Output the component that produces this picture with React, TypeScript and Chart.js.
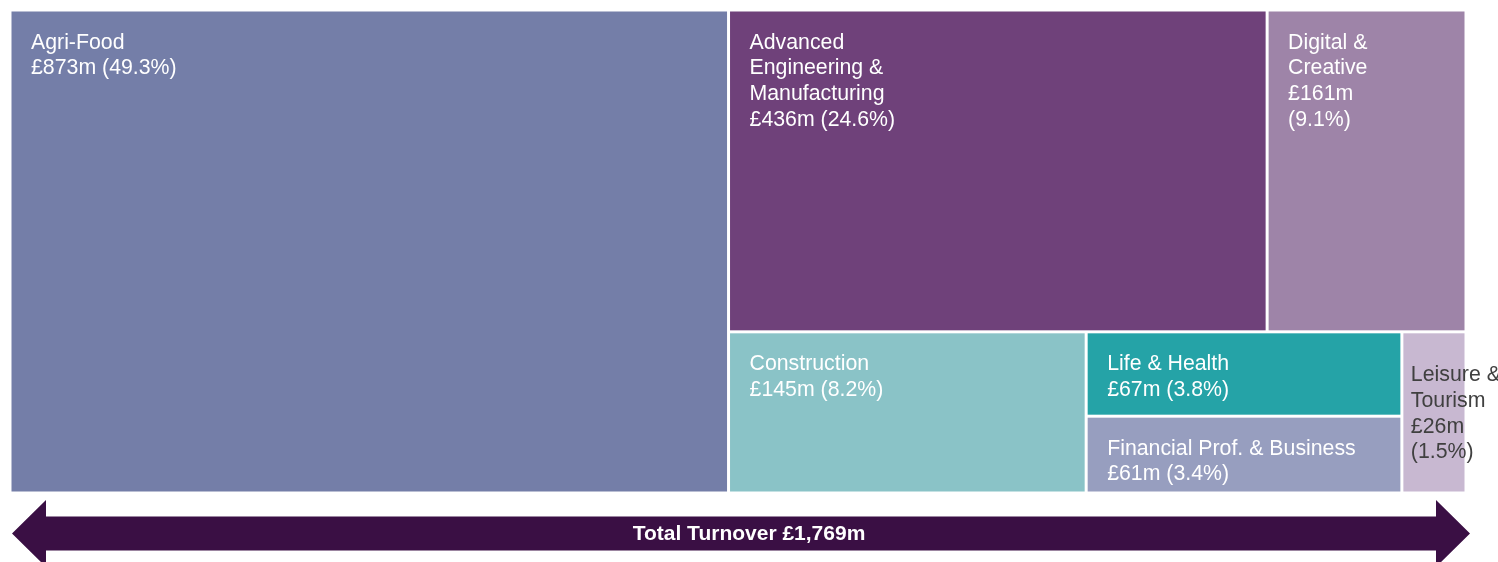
import React, { useEffect, useRef } from "react";
import { Chart, registerables } from "chart.js";

Chart.register(...registerables);

// ---- Data ----
const categories = [
  "Agri-Food",
  "Advanced Engineering & Manufacturing",
  "Digital & Creative",
  "Construction",
  "Life & Health",
  "Financial Prof. & Business",
  "Leisure & Tourism",
];
const labelLines = [
  ["Agri-Food"],
  ["Advanced", "Engineering &", "Manufacturing"],
  ["Digital &", "Creative"],
  ["Construction"],
  ["Life & Health"],
  ["Financial Prof. & Business"],
  ["Leisure &", "Tourism"],
];
const values = [873, 436, 161, 145, 67, 61, 26]; // £m turnover
const splitValueLine = [false, false, true, false, false, false, true];
const totalLabel = "Total Turnover";

// ---- Styles ----
const colors = ["#747ea8", "#6f417a", "#9e84a8", "#8ac3c7", "#25a3a7", "#979ebf", "#c8b8d1"];
const textColors = ["#ffffff", "#ffffff", "#ffffff", "#ffffff", "#ffffff", "#ffffff", "#404040"];
const arrowColor = "#3a0f44";

// treemap nesting (indices into categories); 'h' = side by side, 'v' = stacked
type Node = number | { dir: "h" | "v"; children: Node[] };
const layoutTree: Node = {
  dir: "h",
  children: [
    0,
    {
      dir: "v",
      children: [
        { dir: "h", children: [1, 2] },
        { dir: "h", children: [3, { dir: "v", children: [4, 5] }, 6] },
      ],
    },
  ],
};

const total = values.reduce((a, b) => a + b, 0);

function sumOf(n: Node): number {
  if (typeof n === "number") return values[n];
  return n.children.reduce((a, c) => a + sumOf(c), 0);
}

type R = { x0: number; y0: number; x1: number; y1: number };
function layout(n: Node, x0: number, y0: number, x1: number, y1: number, out: R[]) {
  if (typeof n === "number") {
    out[n] = { x0, y0, x1, y1 };
    return;
  }
  const s = sumOf(n);
  let pos = n.dir === "h" ? x0 : y0;
  for (const c of n.children) {
    const f = sumOf(c) / s;
    if (n.dir === "h") {
      const nx = pos + (x1 - x0) * f;
      layout(c, pos, y0, nx, y1, out);
      pos = nx;
    } else {
      const ny = pos + (y1 - y0) * f;
      layout(c, x0, pos, x1, ny, out);
      pos = ny;
    }
  }
}

const FONT = '"Liberation Sans", Arial, Helvetica, sans-serif';

const treemapPlugin = {
  id: "treemapPlugin",
  afterDraw(chart: any) {
    const ctx = chart.ctx as CanvasRenderingContext2D;
    const xs = chart.scales.x;
    const ys = chart.scales.y;
    const rects: R[] = [];
    layout(layoutTree, 0, 0, 1, 1, rects);
    const gap = 1.5;
    const lh = 25.7;
    ctx.save();
    rects.forEach((r, i) => {
      const px0 = xs.getPixelForValue(r.x0);
      const px1 = xs.getPixelForValue(r.x1);
      const py0 = ys.getPixelForValue(r.y0);
      const py1 = ys.getPixelForValue(r.y1);
      ctx.fillStyle = colors[i];
      ctx.fillRect(px0 + gap, py0 + gap, px1 - px0 - 2 * gap, py1 - py0 - 2 * gap);

      const pct = ((values[i] / total) * 100).toFixed(1);
      const valStr = "£" + values[i] + "m";
      const lines = [...labelLines[i]];
      if (splitValueLine[i]) {
        lines.push(valStr, "(" + pct + "%)");
      } else {
        lines.push(valStr + " (" + pct + "%)");
      }
      ctx.font = "21.3px " + FONT;
      ctx.fillStyle = textColors[i];
      ctx.textAlign = "left";
      ctx.textBaseline = "alphabetic";
      const w = px1 - px0;
      let tx: number, ty: number;
      if (w < 100) {
        tx = px0 + 9;
        const cy = (py0 + py1) / 2;
        ty = cy - ((lines.length - 1) / 2) * lh + 7.5;
      } else {
        tx = px0 + 21;
        ty = py0 + 38.5;
      }
      lines.forEach((ln, k) => ctx.fillText(ln, tx, ty + k * lh));
    });

    // total arrow
    const ax0 = xs.getPixelForValue(0) + 2;
    const ax1 = xs.getPixelForValue(1) + 4;
    const cy = chart.chartArea.bottom + 40.5;
    const sh = 17;
    const hh = 33.5;
    const hl = 34;
    ctx.fillStyle = arrowColor;
    ctx.beginPath();
    ctx.moveTo(ax0, cy);
    ctx.lineTo(ax0 + hl, cy - hh);
    ctx.lineTo(ax0 + hl, cy - sh);
    ctx.lineTo(ax1 - hl, cy - sh);
    ctx.lineTo(ax1 - hl, cy - hh);
    ctx.lineTo(ax1, cy);
    ctx.lineTo(ax1 - hl, cy + hh);
    ctx.lineTo(ax1 - hl, cy + sh);
    ctx.lineTo(ax0 + hl, cy + sh);
    ctx.lineTo(ax0 + hl, cy + hh);
    ctx.closePath();
    ctx.fill();

    ctx.fillStyle = "#ffffff";
    ctx.font = "bold 21px " + FONT;
    ctx.textAlign = "center";
    ctx.textBaseline = "middle";
    ctx.fillText(
      totalLabel + " £" + total.toLocaleString("en-GB") + "m",
      chart.width / 2,
      cy + 1
    );
    ctx.restore();
  },
};

export default function App() {
  const ref = useRef<HTMLCanvasElement | null>(null);
  useEffect(() => {
    if (!ref.current) return;
    const chart = new Chart(ref.current, {
      type: "scatter",
      data: { datasets: [{ data: [] }] },
      options: {
        animation: false,
        responsive: true,
        maintainAspectRatio: false,
        layout: { padding: { left: 10, top: 10, right: 32, bottom: 69 } },
        plugins: { legend: { display: false }, tooltip: { enabled: false } },
        scales: {
          x: { type: "linear", min: 0, max: 1, display: false },
          y: { type: "linear", min: 0, max: 1, reverse: true, display: false },
        },
      },
      plugins: [treemapPlugin],
    });
    return () => chart.destroy();
  }, []);
  return (
    <div style={{ position: "fixed", left: 0, top: 0, width: 1498, height: 562, background: "#ffffff" }}>
      <canvas ref={ref} />
    </div>
  );
}
